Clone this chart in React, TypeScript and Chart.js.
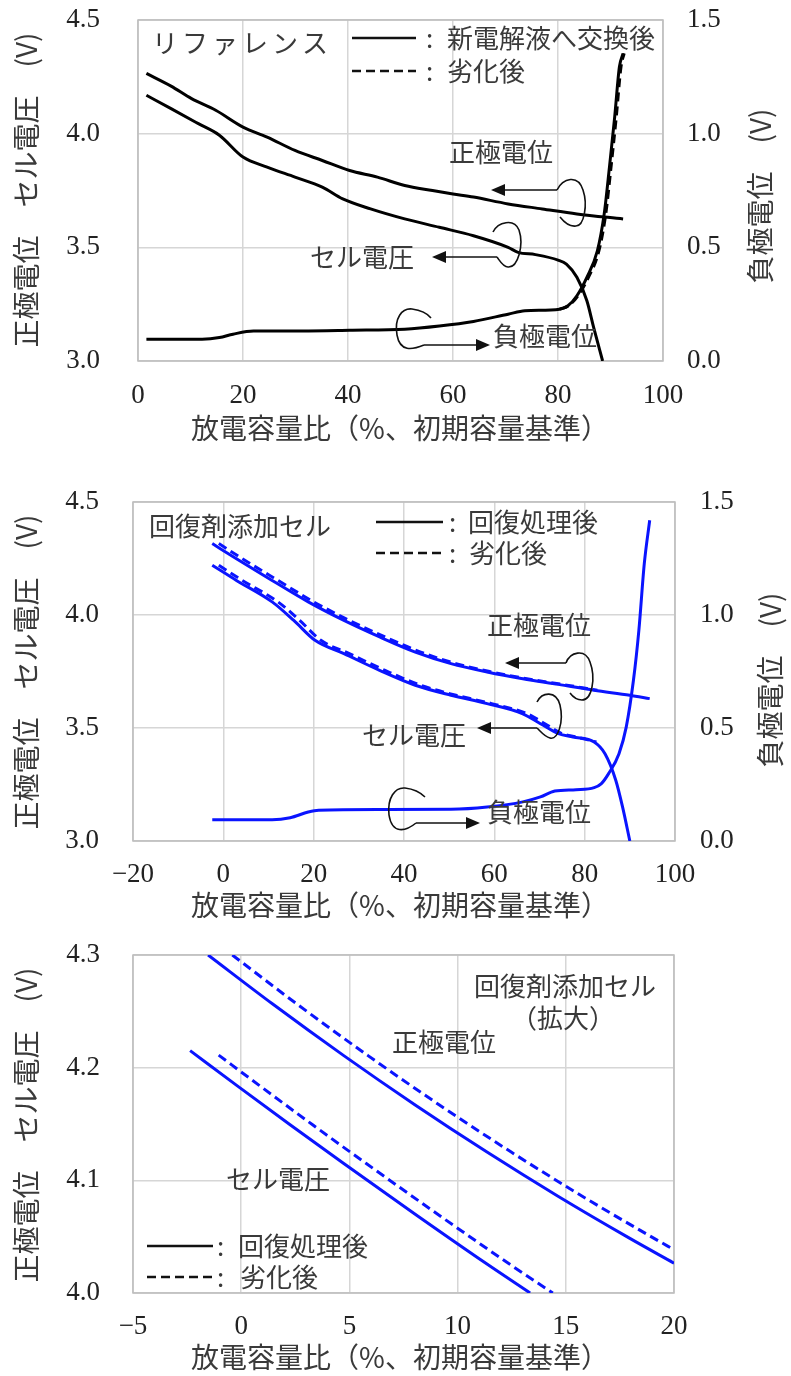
import React, { useEffect, useRef } from "react";
import { Chart, registerables } from "chart.js";
Chart.register(...registerables);

const W = 791;
const JP = "'Noto Sans CJK JP', sans-serif";
const NUM = "'Liberation Serif', 'DejaVu Serif', serif";
const TXT = "#3a3a3a";
const GRID = "#d6d6d6";
const BLUE = "#0a14ff";

// ---------- Chart 1: リファレンス (black) ----------
const refPosX = [1.6, 6.3, 10.2, 14.8, 20.0, 24.6, 29.9, 35.1, 40.3, 45.6, 50.8, 56.1, 60.0, 63.9, 70.5, 77.0, 83.6, 92.4];
const refPosV = [4.265, 4.209, 4.154, 4.103, 4.029, 3.985, 3.926, 3.882, 3.838, 3.809, 3.772, 3.75, 3.735, 3.721, 3.691, 3.669, 3.647, 3.625];
const refCellX = [1.6, 6.3, 11.5, 15.5, 20.0, 24.6, 29.9, 35.1, 39.0, 44.3, 50.8, 57.4, 63.9, 70.5, 72.4, 75.7, 80.0, 81.6, 83.6, 85.5, 86.8, 88.5];
const refCellV = [4.169, 4.11, 4.044, 3.993, 3.897, 3.853, 3.809, 3.765, 3.713, 3.669, 3.625, 3.588, 3.551, 3.5, 3.478, 3.468, 3.444, 3.426, 3.368, 3.265, 3.147, 3.0];
const refNegX = [1.6, 8.3, 12.2, 15.5, 18.1, 22.0, 31.2, 40.3, 50.8, 57.4, 63.9, 70.5, 73.7, 80.3, 81.9, 83.6, 85.5, 87.5, 88.8, 89.8, 90.8, 91.7, 92.4];
const refNegV = [0.096, 0.096, 0.096, 0.103, 0.118, 0.132, 0.132, 0.135, 0.14, 0.154, 0.174, 0.206, 0.221, 0.228, 0.243, 0.287, 0.368, 0.485, 0.647, 0.853, 1.074, 1.294, 1.353];
const refNegDashX = [80.3, 82.0, 83.8, 85.8, 87.8, 89.1, 90.1, 91.1, 92.0, 92.6];
const refNegDashV = [0.228, 0.243, 0.287, 0.368, 0.485, 0.647, 0.853, 1.074, 1.294, 1.353];

// ---------- Chart 2: 回復剤添加セル (blue) ----------
const recPosX = [-2.45, 2.9, 10.8, 18.8, 26.7, 34.6, 42.5, 50.4, 58.4, 66.3, 74.2, 82.1, 90.0, 94.4];
const recPosV = [4.316, 4.249, 4.153, 4.058, 3.976, 3.903, 3.836, 3.785, 3.748, 3.718, 3.693, 3.667, 3.645, 3.63];
const recPosDashX = [-1.0, 4.2, 12.1, 20.0, 27.9, 35.8, 43.7, 51.5, 59.4, 67.2, 75.0, 82.8];
const recPosDashV = [4.316, 4.249, 4.153, 4.058, 3.976, 3.903, 3.836, 3.785, 3.748, 3.718, 3.693, 3.667];
const recCellX = [-2.45, 2.9, 10.8, 15.6, 20.3, 26.7, 34.6, 42.5, 50.4, 58.4, 66.3, 70.2, 74.2, 77.4, 82.1, 84.5, 86.9, 88.4, 90.0];
const recCellV = [4.22, 4.153, 4.058, 3.976, 3.888, 3.829, 3.755, 3.689, 3.645, 3.608, 3.563, 3.519, 3.475, 3.46, 3.438, 3.386, 3.268, 3.15, 3.0];
const recCellDashX = [-1.0, 4.2, 12.1, 16.9, 21.6, 27.9, 35.8, 43.7, 51.5, 59.4, 67.3, 71.2, 75.0, 78.2, 82.6];
const recCellDashV = [4.22, 4.153, 4.058, 3.976, 3.888, 3.829, 3.755, 3.689, 3.645, 3.608, 3.563, 3.519, 3.475, 3.46, 3.438];
const recNegX = [-2.45, 10.8, 14.8, 18.8, 21.1, 34.6, 50.4, 58.4, 66.3, 70.2, 73.4, 78.1, 82.1, 83.7, 85.3, 87.6, 89.2, 90.8, 92.0, 93.2, 94.4];
const recNegV = [0.094, 0.094, 0.103, 0.128, 0.136, 0.139, 0.14, 0.15, 0.173, 0.195, 0.221, 0.227, 0.236, 0.254, 0.298, 0.386, 0.504, 0.711, 0.932, 1.227, 1.419];

// ---------- Chart 3: 拡大 ----------
const zPosX = [-1.53, 1.44, 4.74, 8.04, 11.34, 14.64, 17.94, 20.0];
const zPosV = [4.3, 4.2567, 4.2107, 4.1669, 4.1253, 4.0859, 4.0487, 4.0265];
const zPosDashX = [-0.41, 2.56, 5.86, 9.16, 12.46, 15.76, 19.06, 20.0];
const zPosDashV = [4.3, 4.2567, 4.2107, 4.1669, 4.1253, 4.0859, 4.0487, 4.0385];
const zCellX = [-2.36, -0.21, 2.26, 4.74, 8.04, 11.34, 13.35];
const zCellV = [4.2151, 4.1843, 4.1493, 4.1149, 4.0699, 4.0259, 4.0];
const zCellDashX = [-1.04, 0.83, 3.3, 5.78, 9.08, 12.38, 14.4];
const zCellDashV = [4.2111, 4.1843, 4.1493, 4.1149, 4.0699, 4.0259, 4.0];

const xTitle = "放電容量比（%、初期容量基準）";
const yTitle = "正極電位　セル電圧　(V)";
const y2Title = "負極電位　(V)";

function pts(xs: number[], ys: number[]) {
  return xs.map((x, i) => ({ x, y: ys[i] }));
}

function ds(xs: number[], ys: number[], color: string, dashed: boolean, axis = "y") {
  return {
    type: "line",
    data: pts(xs, ys),
    borderColor: color,
    borderWidth: 3,
    borderDash: dashed ? [9, 5] : [],
    pointRadius: 0,
    fill: false,
    cubicInterpolationMode: "monotone",
    yAxisID: axis,
  };
}

// ---------- drawing helpers ----------
function text(ctx: CanvasRenderingContext2D, s: string, x: number, y: number, align: CanvasTextAlign = "left", size = 26, spacing = 0) {
  ctx.save();
  ctx.font = `${size}px ${JP}`;
  ctx.fillStyle = TXT;
  ctx.textAlign = align;
  ctx.textBaseline = "middle";
  (ctx as any).letterSpacing = spacing + "px";
  ctx.fillText(s, x, y);
  ctx.restore();
}
function vtext(ctx: CanvasRenderingContext2D, s: string, cx: number, cy: number, size = 28) {
  ctx.save();
  ctx.translate(cx, cy);
  ctx.rotate(-Math.PI / 2);
  ctx.font = `${size}px ${JP}`;
  ctx.fillStyle = TXT;
  ctx.textAlign = "center";
  ctx.textBaseline = "middle";
  ctx.fillText(s, 0, 0);
  ctx.restore();
}
function arrow(ctx: CanvasRenderingContext2D, x1: number, y1: number, x2: number, y2: number) {
  const dir = Math.sign(x2 - x1);
  ctx.save();
  ctx.strokeStyle = "#111";
  ctx.fillStyle = "#111";
  ctx.lineWidth = 1.6;
  ctx.beginPath();
  ctx.moveTo(x1, y1);
  ctx.lineTo(x2 - dir * 10, y2);
  ctx.stroke();
  ctx.beginPath();
  ctx.moveTo(x2, y2);
  ctx.lineTo(x2 - dir * 14, y2 - 6);
  ctx.lineTo(x2 - dir * 14, y2 + 6);
  ctx.closePath();
  ctx.fill();
  ctx.restore();
}
function loop(ctx: CanvasRenderingContext2D, p: number[]) {
  ctx.save();
  ctx.strokeStyle = "#111";
  ctx.lineWidth = 1.6;
  ctx.beginPath();
  ctx.moveTo(p[0], p[1]);
  for (let i = 2; i + 5 < p.length; i += 6) {
    ctx.bezierCurveTo(p[i], p[i + 1], p[i + 2], p[i + 3], p[i + 4], p[i + 5]);
  }
  ctx.stroke();
  ctx.restore();
}
function legendLine(ctx: CanvasRenderingContext2D, x1: number, x2: number, y: number, dashed: boolean) {
  ctx.save();
  ctx.strokeStyle = "#111";
  ctx.lineWidth = 2.5;
  ctx.setLineDash(dashed ? [9, 5] : []);
  ctx.beginPath();
  ctx.moveTo(x1, y);
  ctx.lineTo(x2, y);
  ctx.stroke();
  ctx.restore();
}

type Area = { l: number; r: number; t: number; b: number };
type Spec = {
  top: number;
  height: number;
  area: Area;
  x: [number, number, number];
  y: [number, number, number];
  y2?: [number, number, number];
  xPad: number;
  yPad: number;
  y2Pad?: number;
  datasets: any[];
  overlay: (ctx: CanvasRenderingContext2D) => void;
};

const fmtX = (v: any) => (Number(v) < 0 ? "−" + Math.abs(Number(v)) : String(v));
const fmtY = (v: any) => Number(v).toFixed(1);

function zeroPad(sc: any) {
  sc.paddingTop = 0;
  sc.paddingBottom = 0;
  sc.paddingLeft = 0;
  sc.paddingRight = 0;
}

function makeConfig(s: Spec): any {
  const localTop = s.area.t - s.top;
  const localBottom = s.area.b - s.top;
  const tickFont = { family: NUM, size: 27 };
  const grid = { color: GRID, lineWidth: 1.5, drawTicks: false };
  const scales: any = {
    x: {
      type: "linear",
      min: s.x[0],
      max: s.x[1],
      ticks: { stepSize: s.x[2], padding: s.xPad, font: tickFont, color: "#222", callback: fmtX, maxRotation: 0, autoSkip: false },
      grid,
      border: { display: false },
      afterFit: (sc: any) => { sc.height = s.height - localBottom; zeroPad(sc); },
    },
    y: {
      type: "linear",
      position: "left",
      min: s.y[0],
      max: s.y[1],
      ticks: { stepSize: s.y[2], padding: s.yPad, font: tickFont, color: "#222", callback: fmtY, autoSkip: false },
      grid,
      border: { display: false },
      afterFit: (sc: any) => { sc.width = s.area.l; zeroPad(sc); },
    },
  };
  if (s.y2) {
    scales.y2 = {
      type: "linear",
      position: "right",
      min: s.y2[0],
      max: s.y2[1],
      ticks: { stepSize: s.y2[2], padding: s.y2Pad, font: tickFont, color: "#222", callback: fmtY, autoSkip: false },
      grid: { drawOnChartArea: false, drawTicks: false },
      border: { display: false },
      afterFit: (sc: any) => { sc.width = W - s.area.r; zeroPad(sc); },
    };
  }
  return {
    type: "line",
    data: { datasets: s.datasets },
    options: {
      responsive: false,
      animation: false,
      devicePixelRatio: 1,
      layout: { autoPadding: false, padding: { top: localTop, left: 0, bottom: 0, right: s.y2 ? 0 : W - s.area.r } },
      plugins: { legend: { display: false }, tooltip: { enabled: false } },
      scales,
    },
    plugins: [
      {
        id: "frame",
        beforeDatasetsDraw(chart: any) {
          const a = chart.chartArea;
          const ctx = chart.ctx;
          ctx.save();
          ctx.strokeStyle = "#bdbdbd";
          ctx.lineWidth = 1.5;
          ctx.strokeRect(a.left, a.top, a.right - a.left, a.bottom - a.top);
          ctx.restore();
        },
        afterDraw(chart: any) {
          const ctx = chart.ctx;
          ctx.save();
          ctx.translate(0, -s.top);
          s.overlay(ctx);
          ctx.restore();
        },
      },
    ],
  };
}

const specs: Spec[] = [
  {
    top: 0,
    height: 460,
    area: { l: 138, r: 663, t: 20, b: 361 },
    x: [0, 100, 20],
    y: [3, 4.5, 0.5],
    y2: [0, 1.5, 0.5],
    xPad: 19,
    yPad: 38,
    y2Pad: 24,
    datasets: [
      ds(refPosX, refPosV, "#000", false),
      ds(refCellX, refCellV, "#000", false),
      ds(refNegX, refNegV, "#000", false, "y2"),
      ds(refNegDashX, refNegDashV, "#000", true, "y2"),
    ],
    overlay: (ctx) => {
      text(ctx, "リファレンス", 152, 43, "left", 26, 4);
      legendLine(ctx, 352, 416, 38, false);
      text(ctx, ":", 426, 38);
      text(ctx, "新電解液へ交換後", 447, 38);
      legendLine(ctx, 352, 416, 71, true);
      text(ctx, ":", 426, 71);
      text(ctx, "劣化後", 447, 71);
      text(ctx, "正極電位", 449, 152);
      arrow(ctx, 557, 190, 491, 190);
      loop(ctx, [557, 190, 563, 178, 578, 174, 583, 190, 588, 205, 584, 226, 576, 226, 570, 227, 564, 222, 560, 217]);
      text(ctx, "セル電圧", 310, 257);
      arrow(ctx, 497, 257, 432, 257);
      loop(ctx, [493, 232, 498, 222, 514, 218, 519, 230, 524, 245, 518, 268, 508, 267, 503, 267, 500, 261, 497, 257]);
      text(ctx, "負極電位", 493, 336);
      arrow(ctx, 424, 345, 490, 345);
      loop(ctx, [424, 345, 412, 350, 400, 352, 397, 335, 394, 318, 402, 308, 412, 309, 420, 310, 427, 313, 431, 318]);
      vtext(ctx, yTitle, 26, 190);
      vtext(ctx, y2Title, 760, 196);
      text(ctx, xTitle, 400, 428, "center", 28);
    },
  },
  {
    top: 460,
    height: 470,
    area: { l: 133, r: 675, t: 502, b: 841 },
    x: [-20, 100, 20],
    y: [3, 4.5, 0.5],
    y2: [0, 1.5, 0.5],
    xPad: 18,
    yPad: 34,
    y2Pad: 25,
    datasets: [
      ds(recPosDashX, recPosDashV, BLUE, true),
      ds(recCellDashX, recCellDashV, BLUE, true),
      ds(recPosX, recPosV, BLUE, false),
      ds(recCellX, recCellV, BLUE, false),
      ds(recNegX, recNegV, BLUE, false, "y2"),
    ],
    overlay: (ctx) => {
      text(ctx, "回復剤添加セル", 149, 526);
      legendLine(ctx, 376, 443, 522, false);
      text(ctx, ":", 449, 522);
      text(ctx, "回復処理後", 468, 522);
      legendLine(ctx, 376, 443, 553, true);
      text(ctx, ":", 449, 553);
      text(ctx, "劣化後", 469, 553);
      text(ctx, "正極電位", 487, 625);
      arrow(ctx, 566, 663, 505, 663);
      loop(ctx, [566, 663, 570, 652, 585, 648, 590, 662, 596, 678, 592, 700, 582, 700, 577, 700, 573, 697, 570, 693]);
      text(ctx, "セル電圧", 362, 735);
      arrow(ctx, 537, 728, 477, 728);
      loop(ctx, [537, 702, 542, 692, 556, 690, 560, 705, 564, 722, 558, 740, 550, 738, 545, 737, 541, 732, 537, 728]);
      text(ctx, "負極電位", 487, 812);
      arrow(ctx, 416, 823, 480, 823);
      loop(ctx, [416, 823, 405, 832, 392, 834, 389, 815, 387, 798, 395, 787, 405, 788, 413, 789, 420, 792, 425, 797]);
      vtext(ctx, yTitle, 26, 672);
      vtext(ctx, y2Title, 770, 680);
      text(ctx, xTitle, 400, 905, "center", 28);
    },
  },
  {
    top: 930,
    height: 446,
    area: { l: 133, r: 674, t: 955, b: 1293 },
    x: [-5, 20, 5],
    y: [4.0, 4.3, 0.1],
    xPad: 18,
    yPad: 33,
    datasets: [
      ds(zPosX, zPosV, BLUE, false),
      ds(zPosDashX, zPosDashV, BLUE, true),
      ds(zCellX, zCellV, BLUE, false),
      ds(zCellDashX, zCellDashV, BLUE, true),
    ],
    overlay: (ctx) => {
      text(ctx, "回復剤添加セル", 474, 986);
      text(ctx, "（拡大）", 563, 1018, "center");
      text(ctx, "正極電位", 392, 1042);
      text(ctx, "セル電圧", 226, 1179);
      legendLine(ctx, 147, 213, 1246, false);
      text(ctx, ":", 217, 1246);
      text(ctx, "回復処理後", 238, 1246);
      legendLine(ctx, 147, 213, 1277, true);
      text(ctx, ":", 217, 1277);
      text(ctx, "劣化後", 240, 1277);
      vtext(ctx, yTitle, 26, 1125);
      text(ctx, xTitle, 400, 1357, "center", 28);
    },
  },
];

function ChartCanvas({ spec }: { spec: Spec }) {
  const ref = useRef<HTMLCanvasElement>(null);
  useEffect(() => {
    const chart = new Chart(ref.current as HTMLCanvasElement, makeConfig(spec));
    return () => chart.destroy();
  }, []);
  return (
    <canvas
      ref={ref}
      width={W}
      height={spec.height}
      style={{ position: "absolute", left: 0, top: spec.top, width: W, height: spec.height }}
    />
  );
}

export default function App() {
  return (
    <div style={{ position: "absolute", left: 0, top: 0, width: W, height: 1376, background: "#fff" }}>
      {specs.map((s, i) => (
        <ChartCanvas key={i} spec={s} />
      ))}
    </div>
  );
}
